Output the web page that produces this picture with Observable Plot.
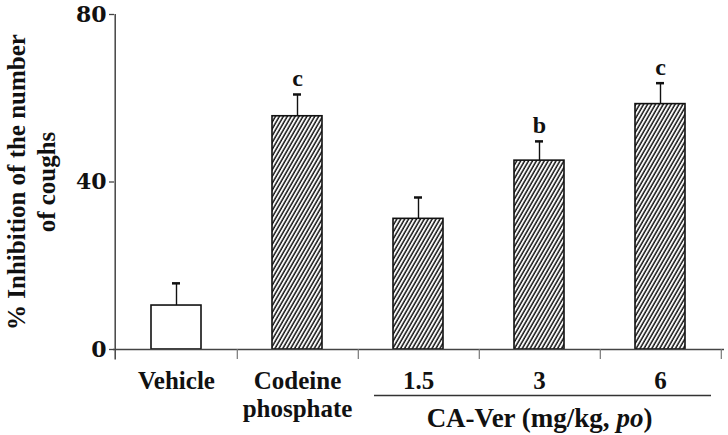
<!DOCTYPE html>
<html>
<head>
<meta charset="utf-8">
<script src="https://cdn.jsdelivr.net/npm/d3@7"></script>
<script src="https://cdn.jsdelivr.net/npm/@observablehq/plot@0.6"></script>
<style>
  html, body { margin: 0; padding: 0; background: #fff; }
  #chart svg { display: block; }
</style>
</head>
<body>
<div id="chart"></div>
<script>
// ---- data ----
const groups = ["Vehicle", "Codeine\nphosphate", "1.5", "3", "6"];
const inhibition = [10.5, 55.7, 31.2, 45.1, 58.6];
const sem = [5.3, 5.2, 5.1, 4.6, 5.0];
const significance = ["", "c", "", "b", "c"];
const yTicks = [0, 40, 80];
const yLabel = "% Inhibition of the number\nof coughs";
const groupLabel = "CA-Ver (mg/kg, po)";
const groupMembers = ["1.5", "6"];

const rows = groups.map((g, i) => ({group: g, value: inhibition[i], sem: sem[i], sig: significance[i], top: inhibition[i] + sem[i]}));

const W = 728, H = 435;
const mL = 114, mR = 6, mT = 14, mB = 86;
const padIn = 0.584, padOut = padIn / 2;
const step = (W - mL - mR) / (groups.length - padIn + 2 * padOut);
const font = "'Liberation Serif', 'Times New Roman', serif";
const digitFont = "'DejaVu Serif', serif";
const axisColor = "#444";
const ink = "#111";

const plot = Plot.plot({
  width: W, height: H,
  marginLeft: mL, marginRight: mR, marginTop: mT, marginBottom: mB,
  style: {fontFamily: font, fontWeight: "bold", color: ink, background: "#fff"},
  x: {domain: groups, paddingInner: padIn, paddingOuter: padOut, axis: null},
  y: {domain: [0, 80], axis: null},
  marks: [
    // y axis line and ticks
    Plot.ruleX([groups[0]], {dx: -step / 2 - 0.5, y1: -2.5, y2: 80, stroke: axisColor, strokeWidth: 1.5}),
    Plot.axisY({ticks: yTicks, tickSize: 5, tickFormat: () => "", label: null, stroke: axisColor, strokeWidth: 1.3}),
    Plot.text(yTicks, {y: d => d, frameAnchor: "left", dx: -8, textAnchor: "end", text: d => String(d), fontFamily: digitFont, fontSize: 22, fill: ink}),
    // y axis title
    Plot.text([yLabel], {frameAnchor: "left", rotate: -90, dx: -84, textAnchor: "middle", lineAnchor: "middle", text: d => d, lineHeight: 1.2, fontSize: 25, fill: ink}),
    // error bars
    Plot.ruleX(rows, {x: "group", y1: "value", y2: "top", stroke: ink, strokeWidth: 1.4}),
    Plot.tickY(rows, {x: "group", y: "top", insetLeft: 21, insetRight: 21, stroke: ink, strokeWidth: 2.5}),
    // bars
    Plot.barY(rows, {x: "group", y: "value", fill: (d, i) => i === 0 ? "white" : "url(#hatch)", stroke: ink, strokeWidth: 1.6}),
    // x axis line and boundary ticks
    Plot.ruleY([0], {stroke: axisColor, strokeWidth: 1.5, insetLeft: -1, insetRight: -2}),
    Plot.ruleX(groups, {dx: step / 2, y1: 0, y2: -2.4, stroke: "#777", strokeWidth: 1.2}),
    // category labels
    Plot.text(groups, {x: d => d, y: () => 0, text: d => d, lineAnchor: "top", dy: 20, lineHeight: 1.12, fontSize: 25, fill: ink}),
    // significance letters
    Plot.text(rows, {x: "group", y: "top", text: "sig", lineAnchor: "bottom", dy: -8, fontSize: 24, fill: ink}),
    // group bracket and label
    Plot.ruleY([0], {x1: () => groupMembers[0], x2: () => groupMembers[1], dy: 46, insetLeft: -19, insetRight: -26, stroke: "#333", strokeWidth: 1.5}),
    Plot.text([groupLabel], {x: () => groups[3], y: () => 0, text: d => d, dy: 69, fontSize: 27, fill: ink})
  ]
});

// hatch pattern definition
const ns = "http://www.w3.org/2000/svg";
const defs = document.createElementNS(ns, "defs");
const pat = document.createElementNS(ns, "pattern");
pat.setAttribute("id", "hatch");
pat.setAttribute("patternUnits", "userSpaceOnUse");
pat.setAttribute("width", "3.4");
pat.setAttribute("height", "10");
pat.setAttribute("patternTransform", "rotate(30)");
const bg = document.createElementNS(ns, "rect");
bg.setAttribute("width", "3.4"); bg.setAttribute("height", "10"); bg.setAttribute("fill", "white");
const ln = document.createElementNS(ns, "line");
ln.setAttribute("x1", "1"); ln.setAttribute("x2", "1"); ln.setAttribute("y1", "0"); ln.setAttribute("y2", "10");
ln.setAttribute("stroke", ink); ln.setAttribute("stroke-width", "1.5");
pat.appendChild(bg); pat.appendChild(ln); defs.appendChild(pat);
plot.insertBefore(defs, plot.firstChild);

// italicise "po" in the group label
plot.querySelectorAll("text").forEach(t => {
  if (t.textContent === groupLabel) {
    const parts = ["CA-Ver (mg/kg, ", "po", ")"];
    t.textContent = "";
    parts.forEach((p, k) => {
      const s = document.createElementNS(ns, "tspan");
      s.textContent = p;
      if (k === 1) s.setAttribute("font-style", "italic");
      t.appendChild(s);
    });
  }
});

document.getElementById("chart").appendChild(plot);
</script>
</body>
</html>
